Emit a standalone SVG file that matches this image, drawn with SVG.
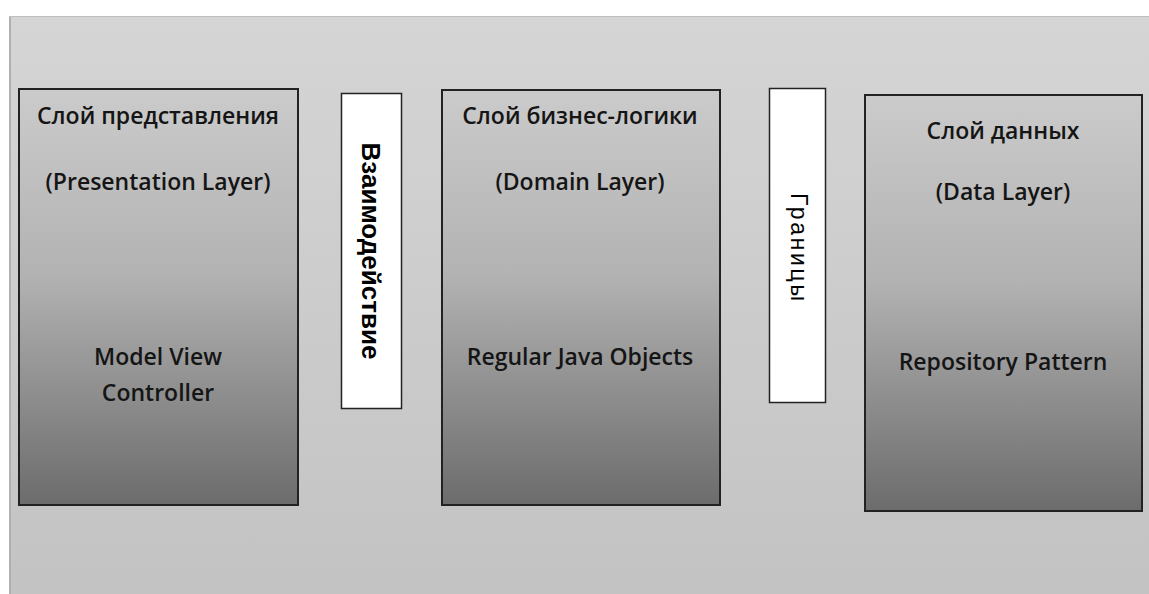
<svg xmlns="http://www.w3.org/2000/svg" width="1149" height="594" viewBox="0 0 1149 594">
  <defs>
    <linearGradient id="panelFill" x1="0" y1="0" x2="0" y2="1">
      <stop offset="0" stop-color="#d5d5d5"/>
      <stop offset="1" stop-color="#c3c3c3"/>
    </linearGradient>
    <linearGradient id="layerFill" x1="0" y1="0" x2="0" y2="1">
      <stop offset="0" stop-color="#cbcbcb"/>
      <stop offset="0.45" stop-color="#b2b2b2"/>
      <stop offset="1" stop-color="#6c6c6c"/>
    </linearGradient>
    <style>
      .layer { fill: url(#layerFill); stroke: #222; stroke-width: 2; }
      .link { fill: #fff; stroke: #222; stroke-width: 1.5; }
      .title { font-family: "Open Sans", "Liberation Sans", sans-serif; font-weight: 600; font-size: 23px; fill: #151515; text-anchor: middle; }
      .vert-bold { font-family: "Liberation Sans", Arial, sans-serif; font-weight: bold; font-size: 26px; fill: #000; text-anchor: middle; }
      .vert { font-family: "Liberation Sans", Arial, sans-serif; font-size: 23px; fill: #000; text-anchor: middle; }
    </style>
  </defs>

  <!-- page background -->
  <rect x="0" y="0" width="1149" height="594" fill="#ffffff"/>
  <rect x="9" y="16" width="1140" height="578" fill="url(#panelFill)"/>
  <line x1="10" y1="16" x2="10" y2="594" stroke="#b0b0b0" stroke-width="2"/>
  <line x1="9" y1="16.5" x2="1149" y2="16.5" stroke="#c0c0c0" stroke-width="1"/>

  <!-- presentation layer -->
  <g id="presentation-layer">
    <rect class="layer" x="19" y="89" width="279" height="416"/>
    <text class="title" x="158" y="124">Слой представления</text>
    <text class="title" x="158" y="190">(Presentation Layer)</text>
    <text class="title" x="158" y="365">Model View</text>
    <text class="title" x="158" y="401">Controller</text>
  </g>

  <!-- interaction strip -->
  <g id="interaction">
    <rect class="link" x="341.5" y="93.5" width="60" height="315"/>
    <text class="vert-bold" transform="translate(362 251) rotate(90)">Взаимодействие</text>
  </g>

  <!-- domain layer -->
  <g id="domain-layer">
    <rect class="layer" x="442" y="90" width="278" height="415"/>
    <text class="title" x="580" y="124">Слой бизнес-логики</text>
    <text class="title" x="580" y="190">(Domain Layer)</text>
    <text class="title" x="580" y="365">Regular Java Objects</text>
  </g>

  <!-- boundaries strip -->
  <g id="boundaries">
    <rect class="link" x="769.5" y="88.5" width="56" height="314"/>
    <text class="vert" transform="translate(791 247) rotate(90)" textLength="108" lengthAdjust="spacing">Границы</text>
  </g>

  <!-- data layer -->
  <g id="data-layer">
    <rect class="layer" x="865" y="95" width="277" height="416"/>
    <text class="title" x="1003" y="139">Слой данных</text>
    <text class="title" x="1003" y="200">(Data Layer)</text>
    <text class="title" x="1003" y="370">Repository Pattern</text>
  </g>

  <!-- connectors: none drawn -->
  <g id="connectors"/>
</svg>
